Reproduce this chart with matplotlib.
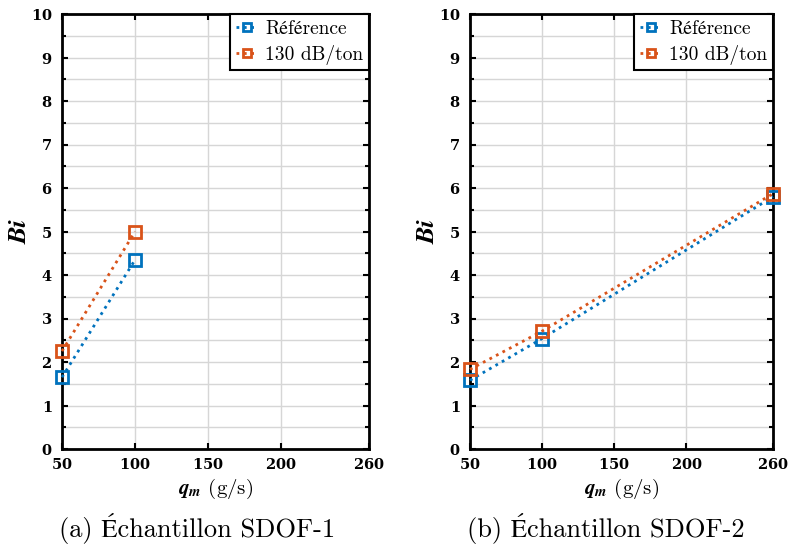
import matplotlib
matplotlib.use("Agg")
import matplotlib.pyplot as plt
from matplotlib.ticker import MultipleLocator, FixedLocator

plt.rcParams['font.family'] = ['cmr10', 'STIXGeneral']
plt.rcParams['mathtext.fontset'] = 'stix'
plt.rcParams['axes.formatter.use_mathtext'] = True

# Data
x1 = [50, 100]
ref1 = [1.65, 4.35]
db1 = [2.25, 5.0]

x2 = [50, 100, 260]
ref2 = [1.58, 2.54, 5.80]
db2 = [1.83, 2.71, 5.87]

xticks = [50, 100, 150, 200, 260]
series_labels = ['Référence', '130 dB/ton']
captions = ['(a) Échantillon SDOF-1', '(b) Échantillon SDOF-2']

c_blue = '#0072BD'
c_orange = '#D95319'

fig = plt.figure(figsize=(7.9, 5.51), dpi=100)
ax1 = fig.add_axes([62/790, 102/551, 307/790, 435/551])
ax2 = fig.add_axes([470/790, 102/551, 303/790, 435/551])

datasets = [(ax1, x1, ref1, db1), (ax2, x2, ref2, db2)]
for ax, x, r, d in datasets:
    ax.plot(x, r, linestyle=':', color=c_blue, lw=2, marker='s', ms=8,
            mfc='none', mew=2, label=series_labels[0], clip_on=False, zorder=3)
    ax.plot(x, d, linestyle=':', color=c_orange, lw=2, marker='s', ms=8,
            mfc='none', mew=2, label=series_labels[1], clip_on=False, zorder=3)
    ax.set_xlim(50, 260)
    ax.set_ylim(0, 10)
    ax.xaxis.set_major_locator(FixedLocator(xticks))
    ax.yaxis.set_major_locator(MultipleLocator(1))
    ax.yaxis.set_minor_locator(MultipleLocator(0.5))
    ax.grid(True, which='major', color='#d6d6d6', lw=1)
    ax.grid(True, which='minor', axis='y', color='#d6d6d6', lw=1)
    ax.set_axisbelow(True)
    for s in ax.spines.values():
        s.set_linewidth(2)
        s.set_color('black')
    ax.tick_params(which='both', direction='in', top=True, right=True,
                   width=1.5, colors='black')
    ax.tick_params(which='major', length=4)
    ax.tick_params(which='minor', length=3)
    ax.tick_params(axis='x', which='major', pad=6)
    ax.tick_params(axis='y', which='major', pad=7)
    for lab in ax.get_xticklabels() + ax.get_yticklabels():
        lab.set_fontfamily('DejaVu Serif')
        lab.set_fontweight('bold')
        lab.set_fontsize(10.5)
    ax.set_ylabel('Bi', family='STIXGeneral', fontweight='bold',
                  fontstyle='italic', fontsize=19, labelpad=-1)
    ax.set_xlabel(r'$\mathbfit{q}_{\mathbfit{m}}$ (g/s)', fontsize=15, labelpad=3)
    leg = ax.legend(loc='upper right', borderaxespad=0, fancybox=False,
                    edgecolor='black', framealpha=1, fontsize=14,
                    handlelength=1.1, handletextpad=0.4, borderpad=0.3,
                    labelspacing=0.35, markerscale=0.8)
    leg.get_frame().set_linewidth(1.5)

fig.text(197/790, 1 - 528/551, captions[0], ha='center', va='center', fontsize=19)
fig.text(606/790, 1 - 528/551, captions[1], ha='center', va='center', fontsize=19)

fig.savefig('out.png', dpi=100)
